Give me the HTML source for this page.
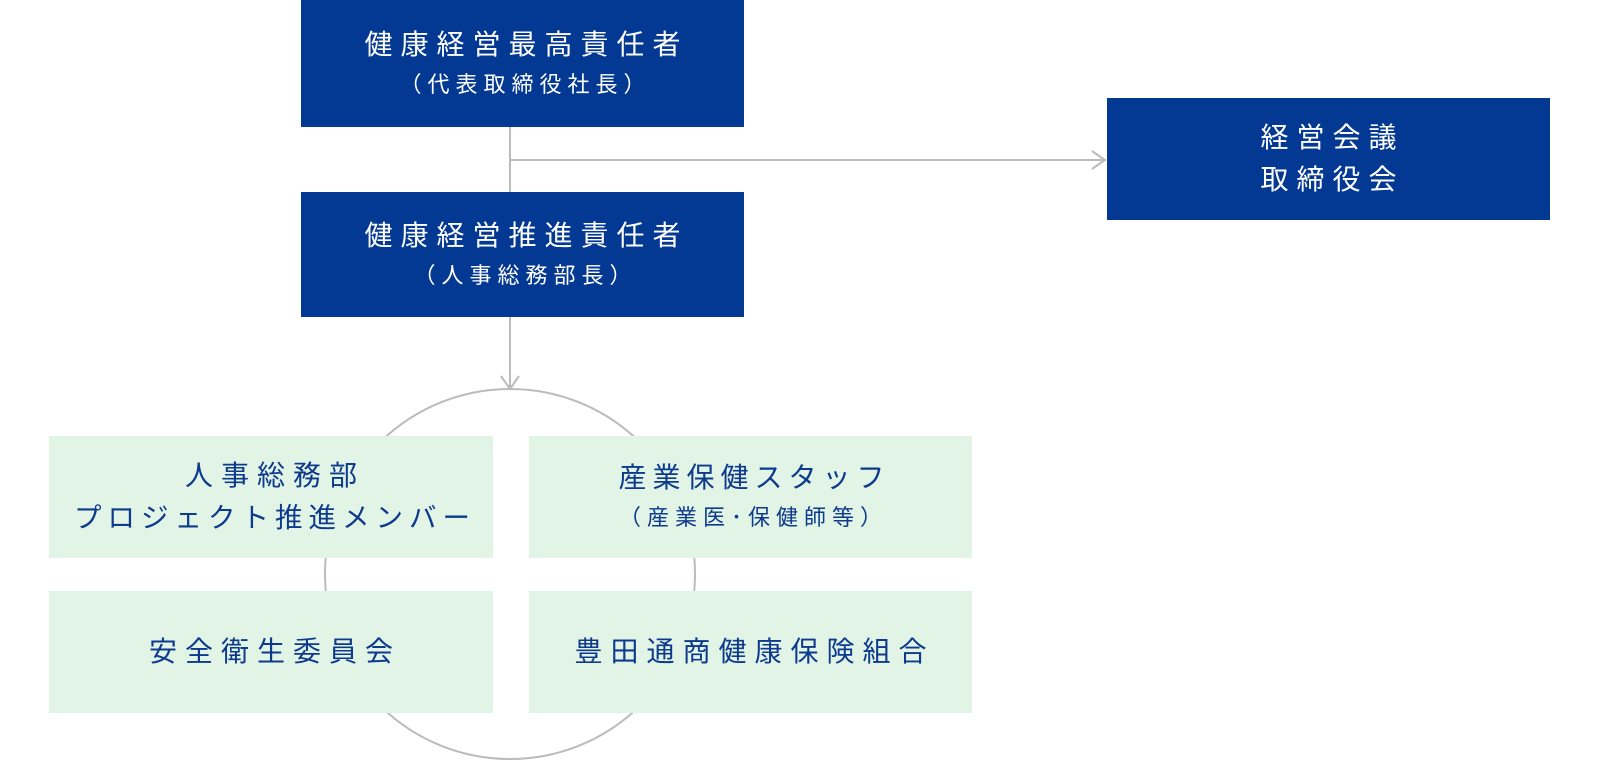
<!DOCTYPE html>
<html><head><meta charset="utf-8"><style>
body{margin:0;width:1600px;height:760px;background:#fff;position:relative;overflow:hidden;font-family:"Liberation Sans","Noto Sans CJK JP",sans-serif}
.b{position:absolute;display:flex;flex-direction:column;align-items:center;justify-content:center;text-align:center}
.blue{background:#033893;color:#fff}
.green{background:#e2f4e6;color:#0d3a8c}
.l1{font-size:28px;letter-spacing:8px;line-height:42px;margin-right:-8px}
.l2{font-size:22px;letter-spacing:6px;line-height:38px;margin-right:-6px}
</style></head><body>
<svg width="1600" height="760" style="position:absolute;left:0;top:0">
<g fill="none" stroke="#bbbbbb" stroke-width="2">
<line x1="510" y1="127" x2="510" y2="192"/>
<line x1="510" y1="160" x2="1105" y2="160"/>
<polyline points="1092,151 1105,160 1092,169"/>
<line x1="510" y1="317" x2="510" y2="388"/>
<polyline points="501,376 510,389 519,376"/>
<circle cx="510" cy="574" r="185"/>
</g></svg>
<div class="b blue" style="left:301px;top:0;width:443px;height:127px"><div class="l1">健康経営最高責任者</div><div class="l2">（代表取締役社長）</div></div>
<div class="b blue" style="left:301px;top:192px;width:443px;height:125px"><div class="l1">健康経営推進責任者</div><div class="l2">（人事総務部長）</div></div>
<div class="b blue" style="left:1107px;top:98px;width:443px;height:122px"><div class="l1">経営会議</div><div class="l1">取締役会</div></div>
<div class="b green" style="left:49px;top:436px;width:444px;height:122px"><div class="l1" style="letter-spacing:8px">人事総務部</div><div class="l1" style="letter-spacing:6px;font-size:27.5px">プロジェクト推進メンバー</div></div>
<div class="b green" style="left:529px;top:436px;width:443px;height:122px"><div class="l1" style="letter-spacing:6px">産業保健スタッフ</div><div class="l2">（産業医･保健師等）</div></div>
<div class="b green" style="left:49px;top:591px;width:444px;height:122px"><div class="l1" style="letter-spacing:8px">安全衛生委員会</div></div>
<div class="b green" style="left:529px;top:591px;width:443px;height:122px"><div class="l1" style="letter-spacing:8px">豊田通商健康保険組合</div></div>
</body></html>
